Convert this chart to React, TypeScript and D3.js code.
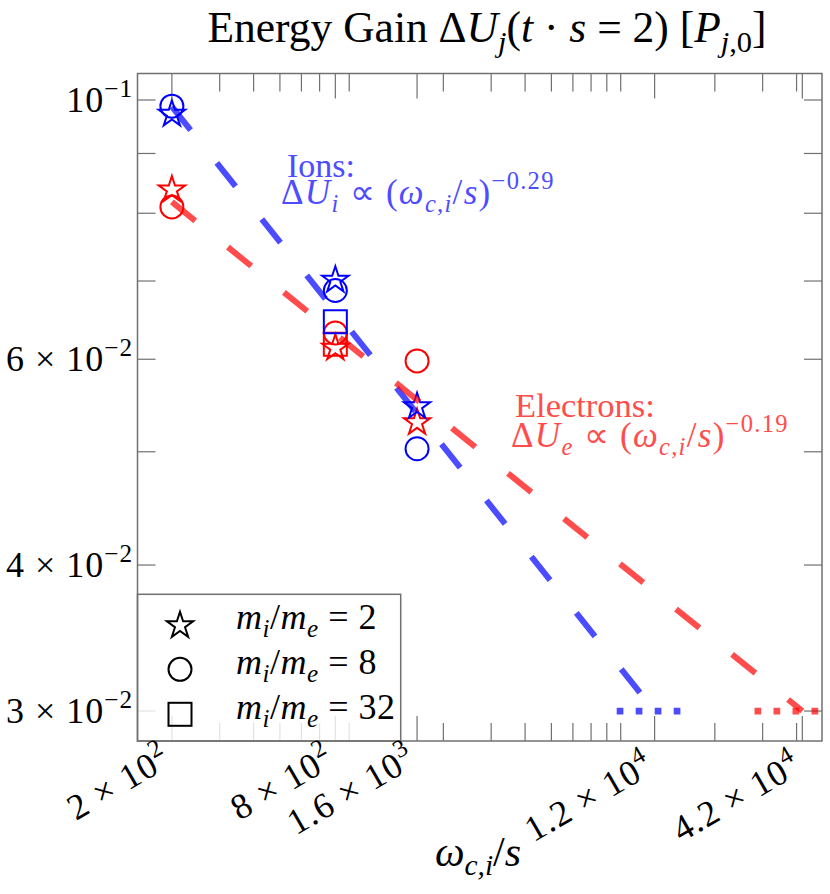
import React from 'react';
import * as d3 from 'd3';

// ---------- data ----------
const xValues = [200, 800, 1600];
const ionStar = [0.0975, 0.0703, 0.0548];
const ionCircle = [0.0988, 0.0687, 0.0503];
const ionSquare: (number | null)[] = [null, 0.0646, null];
const elecStar = [0.0840, 0.0615, 0.0531];
const elecCircle = [0.0810, 0.0632, 0.0598];
const elecSquare: (number | null)[] = [null, 0.0618, null];

const ionFitX = [200, 12000];
const ionFitY = [0.0987, 0.030];
const elecFitX = [200, 42000];
const elecFitY = [0.0818, 0.030];
const ionDotX = [8700, 15100];
const elecDotX = [28000, 48200];
const dotY = [0.03, 0.03];

const xTicks = [200, 800, 1600, 12000, 42000];
const xTickMant = ['2', '8', '1.6', '1.2', '4.2'];
const xTickExp = ['2', '2', '3', '4', '4'];
const yTicks = [0.1, 0.06, 0.04, 0.03];
const yTickMant = ['', '6', '4', '3'];
const yTickExp = ['−1', '−2', '−2', '−2'];
const legendLabels = ['2', '8', '32'];

// ---------- layout ----------
const W = 830, H = 894;
const L = 137.5, R = 822, T = 73.5, B = 741;
const FONT = '"Liberation Serif", "Times New Roman", serif';
const AX = '#707070';
const BLUE = '#0000ff', RED = '#ff0000';
const xLabelBaseY = [765, 765, 765, 772, 772];

const x = d3.scaleLog().domain([149.4, 49630]).range([L, R]);
const y = d3.scaleLog().domain([0.02828, 0.10536]).range([B, T]);

type Seg = { t: string; i?: boolean; b?: 'sub' | 'sup' };
function spans(segs: Seg[], fs: number) {
  let cur = 0;
  return segs.map((s, k) => {
    const target = s.b === 'sub' ? fs * 0.22 : s.b === 'sup' ? -fs * 0.42 : 0;
    const dy = target - cur;
    cur = target;
    return (
      <tspan key={k} dy={dy} fontStyle={s.i ? 'italic' : 'normal'} fontSize={s.b ? fs * 0.7 : fs}>
        {s.t}
      </tspan>
    );
  });
}

const starPath = d3.symbol(d3.symbolStar, 215)()!;
const circR = 11.5;
const sqS = 23;

function Marker({ kind, cx, cy, color }: { kind: string; cx: number; cy: number; color: string }) {
  const common = { fill: 'none', stroke: color, strokeWidth: 2 };
  if (kind === 'star') return <path d={starPath} transform={`translate(${cx},${cy + 1.3})`} {...common} />;
  if (kind === 'circle') return <circle cx={cx} cy={cy} r={circR} {...common} />;
  return <rect x={cx - sqS / 2} y={cy - sqS / 2} width={sqS} height={sqS} {...common} />;
}

function series(vals: (number | null)[], kind: string, color: string, key: string) {
  return vals.map((v, i) =>
    v == null ? null : <Marker key={key + i} kind={kind} cx={x(xValues[i])} cy={y(v)} color={color} />
  );
}

const mathLine = (sub: string, exp: string): Seg[] => [
  { t: 'Δ' },
  { t: 'U', i: true },
  { t: sub, i: true, b: 'sub' },
  { t: ' ∝ (' },
  { t: 'ω', i: true },
  { t: 'c,i', i: true, b: 'sub' },
  { t: '/' },
  { t: 's', i: true },
  { t: ')' },
  { t: exp, b: 'sup' },
];

export default function App() {
  const xAll = x.ticks().filter((t) => {
    const l = Math.log10(t);
    return Math.abs(l - Math.round(l)) > 1e-9;
  });
  const xMinor = xAll.filter((t) => !xTicks.some((m) => Math.abs(m - t) / m < 1e-6));
  const yAll = y.ticks();
  const yMinor = yAll.filter((t) => !yTicks.some((m) => Math.abs(m - t) / m < 1e-6));

  const line = d3.line<[number, number]>().x((d) => x(d[0])).y((d) => y(d[1]));
  const fs = 36;

  return (
    <svg width={W} height={H} style={{ position: 'absolute', left: 0, top: 0, background: '#fff' }} fontFamily={FONT}>
      <rect x={0} y={0} width={W} height={H} fill="#fff" />
      {/* title */}
      <text x={487} y={42} textAnchor="middle" fontSize={43.5} style={{ whiteSpace: 'pre' }}>
        {spans(
          [
            { t: 'Energy Gain Δ' },
            { t: 'U', i: true },
            { t: 'j', i: true, b: 'sub' },
            { t: '(' },
            { t: 't', i: true },
            { t: ' · ' },
            { t: 's', i: true },
            { t: ' = 2) [' },
            { t: 'P', i: true },
            { t: 'j', i: true, b: 'sub' },
            { t: ',0', b: 'sub' },
            { t: ']' },
          ],
          43.5
        )}
      </text>

      {/* ticks */}
      <g stroke={AX} strokeWidth={1.2}>
        {xMinor.map((t) => (
          <g key={'xm' + t}>
            <line x1={x(t)} x2={x(t)} y1={B} y2={B - 18} />
            <line x1={x(t)} x2={x(t)} y1={T} y2={T + 18} />
          </g>
        ))}
        {xTicks.map((t) => (
          <g key={'xM' + t}>
            <line x1={x(t)} x2={x(t)} y1={B} y2={B - 25} />
            <line x1={x(t)} x2={x(t)} y1={T} y2={T + 25} />
          </g>
        ))}
        {[...yMinor, ...yTicks].map((t) => (
          <g key={'y' + t}>
            <line x1={L} x2={L + 18} y1={y(t)} y2={y(t)} />
            <line x1={R} x2={R - 18} y1={y(t)} y2={y(t)} />
          </g>
        ))}
      </g>

      {/* markers */}
      {series(elecSquare, 'square', RED, 'es')}
      {series(elecStar, 'star', RED, 'est')}
      {series(elecCircle, 'circle', RED, 'ec')}
      {series(ionSquare, 'square', BLUE, 'is')}
      {series(ionStar, 'star', BLUE, 'ist')}
      {series(ionCircle, 'circle', BLUE, 'ic')}

      {/* fit lines */}
      <path
        d={line(ionFitX.map((v, i) => [v, ionFitY[i]]))!}
        stroke={BLUE}
        strokeOpacity={0.7}
        strokeWidth={6}
        strokeDasharray="30 42"
        fill="none"
      />
      <path
        d={line(elecFitX.map((v, i) => [v, elecFitY[i]]))!}
        stroke={RED}
        strokeOpacity={0.7}
        strokeWidth={6}
        strokeDasharray="30 42"
        fill="none"
      />
      <path
        d={line(ionDotX.map((v, i) => [v, dotY[i]]))!}
        stroke={BLUE}
        strokeOpacity={0.7}
        strokeWidth={6.7}
        strokeDasharray="6.7 12.3"
        fill="none"
      />
      <path
        d={line(elecDotX.map((v, i) => [v, dotY[i]]))!}
        stroke={RED}
        strokeOpacity={0.7}
        strokeWidth={6.7}
        strokeDasharray="6.7 12.3"
        fill="none"
      />

      {/* annotations */}
      <g fill="#4d4dff" style={{ whiteSpace: 'pre' }}>
        <text x={287} y={177} fontSize={34}>Ions:</text>
        <text x={281} y={204} fontSize={35} letterSpacing={1.3}>
          {spans(mathLine('i', '−0.29'), 35)}
        </text>
      </g>
      <g fill="#ff4d4d" style={{ whiteSpace: 'pre' }}>
        <text x={515} y={417} fontSize={34.5}>Electrons:</text>
        <text x={511} y={447} fontSize={35} letterSpacing={1.3}>
          {spans(mathLine('e', '−0.19'), 35)}
        </text>
      </g>

      {/* legend */}
      <g>
        <rect x={L} y={594.3} width={400.7 - L} height={B - 594.3} fill="#fff" fillOpacity={0.8} stroke={AX} strokeWidth={1.5} />
        {legendLabels.map((lab, i) => {
          const cy = 624.3 + i * 45;
          const kind = ['star', 'circle', 'square'][i];
          return (
            <g key={'lg' + i}>
              <Marker kind={kind} cx={180} cy={cy} color="#000" />
              <text x={236} y={cy + 5} fontSize={36} letterSpacing={0.5} style={{ whiteSpace: 'pre' }}>
                {spans(
                  [
                    { t: 'm', i: true },
                    { t: 'i', i: true, b: 'sub' },
                    { t: '/' },
                    { t: 'm', i: true },
                    { t: 'e', i: true, b: 'sub' },
                    { t: ' = ' + lab },
                  ],
                  36
                )}
              </text>
            </g>
          );
        })}
      </g>

      {/* frame */}
      <rect x={L} y={T} width={R - L} height={B - T} fill="none" stroke={AX} strokeWidth={1.5} />

      {/* y tick labels */}
      {yTicks.map((t, i) => (
        <text key={'yl' + t} x={133} y={y(t) + 12} textAnchor="end" fontSize={fs} letterSpacing={1} style={{ whiteSpace: 'pre' }}>
          {spans(
            [{ t: (yTickMant[i] ? yTickMant[i] + ' × ' : '') + '10' }, { t: yTickExp[i], b: 'sup' }],
            fs
          )}
        </text>
      ))}

      {/* x tick labels */}
      {xTicks.map((t, i) => (
        <text
          key={'xl' + t}
          transform={`translate(${x(t) + 1},${xLabelBaseY[i]}) rotate(-30)`}
          textAnchor="end"
          fontSize={fs}
          letterSpacing={1}
          style={{ whiteSpace: 'pre' }}
        >
          {spans([{ t: xTickMant[i] + ' × 10' }, { t: xTickExp[i], b: 'sup' }], fs)}
        </text>
      ))}

      {/* x axis label */}
      <text x={478} y={866} textAnchor="middle" fontSize={42} style={{ whiteSpace: 'pre' }}>
        {spans(
          [{ t: 'ω', i: true }, { t: 'c,i', i: true, b: 'sub' }, { t: '/' }, { t: 's', i: true }],
          42
        )}
      </text>
    </svg>
  );
}
